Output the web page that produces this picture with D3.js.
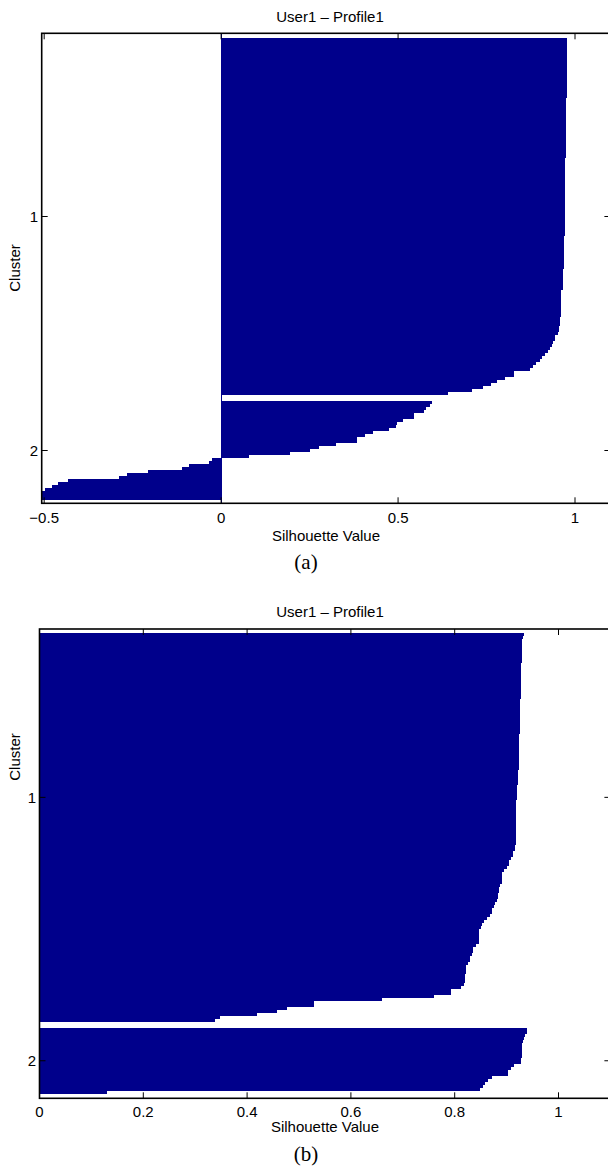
<!DOCTYPE html>
<html><head><meta charset="utf-8">
<script src="https://cdn.jsdelivr.net/npm/d3@7"></script>
<style>body{margin:0;background:#fff} svg{display:block}</style>
</head><body>
<svg id="c" width="608" height="1167"></svg>
<script>
// ---------- DATA ----------
const clusterLabels = ["1", "2"];
const titleText = "User1 \u2013 Profile1";
const xLabelText = "Silhouette Value";
const yLabelText = "Cluster";
const captions = ["(a)", "(b)"];

// Panel (a): silhouette values per cluster, sorted descending
const silA_cluster1 = [
  0.978,0.977,0.977,0.977,0.977,0.977,0.977,0.977,0.977,0.977,
  0.976,0.976,0.976,0.976,0.976,0.976,0.976,0.976,0.976,0.976,
  0.975,0.975,0.975,0.975,0.975,0.975,0.975,0.975,0.975,0.975,
  0.974,0.974,0.974,0.974,0.974,0.974,0.974,0.974,0.974,0.974,
  0.973,0.973,0.973,0.973,0.973,0.973,0.973,0.973,0.973,0.973,
  0.972,0.972,0.972,0.972,0.972,0.972,0.972,0.972,
  0.971,0.971,0.971,0.971,0.971,0.971,0.971,0.971,
  0.970,0.970,0.970,0.970,0.970,0.970,
  0.968,0.968,0.968,0.968,0.968,
  0.967,0.967,0.967,0.967,0.967,
  0.965,0.965,
  0.961,0.961,0.961,0.961,0.961,0.961,0.961,0.961,0.961,
  0.958,0.958,0.958,
  0.955,0.955,
  0.951,
  0.944,0.944,
  0.939,0.935,0.929,0.923,0.916,0.908,0.901,0.890,0.880,0.873,
  0.829,0.829,
  0.802,0.779,0.763,0.739,0.708,0.640
];
const silA_cluster2 = [
  0.595,0.590,0.579,0.573,0.545,0.545,0.515,0.497,0.494,0.475,
  0.428,0.407,0.383,0.383,0.324,0.277,0.251,0.194,0.078,
  -0.025,-0.033,-0.092,-0.110,-0.206,-0.266,-0.288,
  -0.434,-0.462,-0.477,-0.497,-0.507,-0.507,-0.507
];
const xTicksA = [-0.5, 0, 0.5, 1];
const xTickLabelsA = ["\u22120.5", "0", "0.5", "1"];
// cluster tick positions (in bar units from the first bar)
const clusterTicksA = [59.5, 137.5];

// Panel (b)
const silB_cluster1 = [
  0.934,0.931,0.930,0.930,0.930,
  0.929,0.929,0.929,0.929,0.929,
  0.928,0.928,0.928,0.928,0.928,0.928,
  0.927,0.927,0.927,0.927,0.927,0.927,
  0.926,0.926,0.926,0.926,0.926,0.926,
  0.925,0.925,0.925,0.925,0.925,0.925,
  0.924,0.924,0.924,0.924,0.924,0.924,
  0.923,0.923,0.923,0.923,0.923,0.923,
  0.922,0.922,0.922,0.922,0.922,
  0.921,0.921,0.921,0.921,0.921,
  0.919,0.919,0.919,0.919,0.919,0.919,
  0.918,0.918,0.918,0.918,0.918,0.918,0.918,0.918,0.918,
  0.916,0.916,0.912,0.912,0.909,0.905,0.905,0.901,0.895,0.892,
  0.891,0.891,0.891,0.888,0.886,0.886,0.883,0.883,0.881,0.878,
  0.876,0.872,0.872,0.868,0.862,0.856,0.853,0.850,
  0.847,0.847,0.847,0.847,0.847,0.842,
  0.835,0.835,0.833,0.829,0.829,0.826,
  0.822,0.822,0.822,0.820,0.820,0.820,0.817,0.812,
  0.793,0.793,0.761,
  0.659,0.528,0.528,0.476,0.457,0.420,0.348,0.339
];
const silB_cluster2 = [
  0.939,0.939,0.936,0.933,0.932,0.930,0.930,0.929,0.929,0.929,
  0.927,0.927,0.914,0.908,0.903,0.903,0.871,0.865,0.859,0.855,
  0.848,0.131
];
const xTicksB = [0, 0.2, 0.4, 0.6, 0.8, 1];
const xTickLabelsB = ["0", "0.2", "0.4", "0.6", "0.8", "1"];
const clusterTicksB = [55, 143];

// ---------- DRAW ----------
const svg = d3.select("#c");
const BAR = "#00008b";
const FONT = "'Liberation Sans', Arial, Helvetica, sans-serif";
const GAP = 2;

function panel(cfg) {
  const g = svg.append("g");
  const x = d3.scaleLinear().domain(cfg.xDomain).range([cfg.left, cfg.right]);
  const nTotal = cfg.clusters.reduce((a, c) => a + c.length, 0) + GAP * (cfg.clusters.length - 1);
  const y = d3.scaleLinear().domain([-cfg.padTop, nTotal + cfg.padBottom]).range([cfg.top, cfg.bottom]);

  const bars = [];
  let k = 0;
  cfg.clusters.forEach(vals => {
    vals.forEach(v => { bars.push({k: k, v: v}); k++; });
    k += GAP;
  });
  g.append("g").attr("shape-rendering", "crispEdges")
    .selectAll("rect").data(bars).enter().append("rect")
    .attr("x", d => Math.min(x(0), x(d.v)))
    .attr("width", d => Math.abs(x(d.v) - x(0)))
    .attr("y", d => y(d.k))
    .attr("height", d => y(d.k + 1) - y(d.k))
    .attr("fill", BAR);

  if (cfg.xDomain[0] < 0) {
    g.append("line").attr("x1", x(0)).attr("x2", x(0))
      .attr("y1", cfg.top).attr("y2", cfg.bottom)
      .attr("stroke", BAR).attr("stroke-width", 1).attr("shape-rendering", "crispEdges");
  }

  const ax = g.append("g").attr("stroke", "#000").attr("stroke-width", 1.6).attr("fill", "none");
  ax.append("rect").attr("x", cfg.left).attr("y", cfg.top)
    .attr("width", cfg.right - cfg.left).attr("height", cfg.bottom - cfg.top);

  const TL = 6;
  const tk = g.append("g").attr("stroke", "#000").attr("stroke-width", 1);
  cfg.xTicks.forEach(t => {
    tk.append("line").attr("x1", x(t)).attr("x2", x(t)).attr("y1", cfg.bottom).attr("y2", cfg.bottom - TL);
    tk.append("line").attr("x1", x(t)).attr("x2", x(t)).attr("y1", cfg.top).attr("y2", cfg.top + TL);
  });
  cfg.clusterTicks.forEach(p => {
    tk.append("line").attr("x1", cfg.left).attr("x2", cfg.left + TL).attr("y1", y(p)).attr("y2", y(p));
    tk.append("line").attr("x1", cfg.right).attr("x2", cfg.right - TL).attr("y1", y(p)).attr("y2", y(p));
  });

  const txt = g.append("g").attr("font-family", FONT).attr("font-size", 15).attr("fill", "#000");
  cfg.xTicks.forEach((t, i) => {
    txt.append("text").attr("x", x(t)).attr("y", cfg.tickBase)
      .attr("text-anchor", "middle").text(cfg.xTickLabels[i]);
  });
  cfg.clusterTicks.forEach((p, i) => {
    txt.append("text").attr("x", cfg.left - 3.5).attr("y", y(p)).attr("dy", "0.35em")
      .attr("text-anchor", "end").text(clusterLabels[i]);
  });
  txt.append("text").attr("x", cfg.titleX).attr("y", cfg.titleBase)
    .attr("text-anchor", "middle").text(titleText);
  txt.append("text").attr("x", cfg.xlabX).attr("y", cfg.xlabBase)
    .attr("text-anchor", "middle").text(xLabelText);
  txt.append("text").attr("transform", `translate(${cfg.ylabX},${cfg.ylabY}) rotate(-90)`)
    .attr("text-anchor", "middle").text(yLabelText);

  g.append("text").attr("x", cfg.capX).attr("y", cfg.capBase)
    .attr("text-anchor", "middle")
    .attr("font-family", "'Liberation Serif', 'Times New Roman', serif")
    .attr("font-size", 21).attr("fill", "#000").text(cfg.caption);
}

panel({
  clusters: [silA_cluster1, silA_cluster2], clusterTicks: clusterTicksA,
  xDomain: [-0.507, 1.1], xTicks: xTicksA, xTickLabels: xTickLabelsA,
  left: 41.7, right: 610.4, top: 33.3, bottom: 503.3,
  padTop: 1.57, padBottom: 1.1,
  tickBase: 522.5, titleX: 330, titleBase: 21.7,
  xlabX: 326, xlabBase: 540.5, ylabX: 20, ylabY: 268,
  capX: 306, capBase: 569, caption: captions[0]
});
panel({
  clusters: [silB_cluster1, silB_cluster2], clusterTicks: clusterTicksB,
  xDomain: [0, 1.1], xTicks: xTicksB, xTickLabels: xTickLabelsB,
  left: 39.5, right: 610.4, top: 629, bottom: 1098.3,
  padTop: 1.24, padBottom: 1.54,
  tickBase: 1117, titleX: 330, titleBase: 617.4,
  xlabX: 325, xlabBase: 1132, ylabX: 20, ylabY: 757,
  capX: 306, capBase: 1161, caption: captions[1]
});
</script>
</body></html>
